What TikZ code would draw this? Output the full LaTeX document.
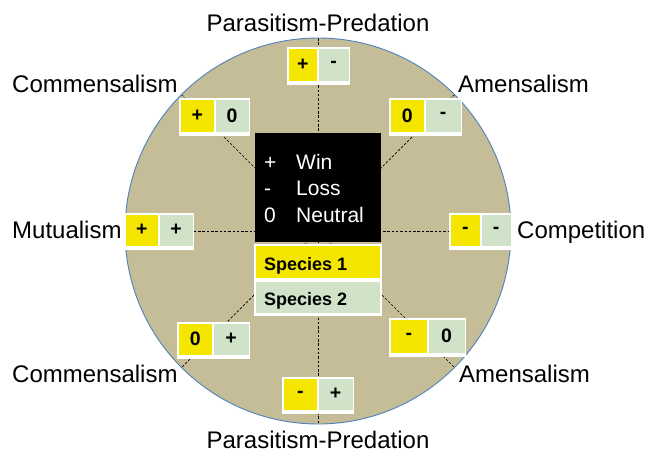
\documentclass[tikz,border=0pt]{standalone}
\usepackage{fontspec}
\setmainfont{Liberation Sans}
\definecolor{tan}{HTML}{C4BD97}
\definecolor{rim}{HTML}{4F81BD}
\definecolor{yel}{RGB}{245,230,0}
\definecolor{grn}{RGB}{208,227,200}
\tikzset{
  lbl/.style={font=\fontsize{24}{24}\selectfont, inner sep=0pt, anchor=base west},
  cell/.style={inner sep=0pt, outer sep=0pt, font=\bfseries\fontsize{19.5}{19.5}\selectfont, text=black},
  legtext/.style={font=\fontsize{21}{21}\selectfont, text=white, inner sep=0pt, anchor=base west},
  sptext/.style={font=\bfseries\fontsize{18}{18}\selectfont, text=black, inner sep=0pt, anchor=base west},
  spoke/.style={black, line width=0.7pt, dash pattern=on 2.5pt off 1.8pt},
}
\newcommand\pairbox[8]{%
  \fill[white] (#2,#3) rectangle (#4,#5);
  \node[cell,fill=yel,anchor=north west,minimum width={(#6-#2-2.2)*1pt},minimum height={(#5-#3-5.5)*1pt}] (#1a) at (#2+1.5,#3+1.5) {#7};
  \node[cell,fill=grn,anchor=north west,minimum width={(#4-#6-2.2)*1pt},minimum height={(#5-#3-5.5)*1pt}] (#1b) at (#6+0.7,#3+1.5) {#8};
}
\begin{document}
\begin{tikzpicture}[x=1pt,y=-1pt]
\useasboundingbox (0,0) rectangle (656,453);
\coordinate (c) at (318,231);
\fill[tan] (c) circle[radius=193];
\begin{scope}
\clip (c) circle[radius=193];
\coordinate (n) at (318,38);  \coordinate (s) at (318,424);
\coordinate (w) at (125,231); \coordinate (e) at (511,231);
\coordinate (nw) at (181.5,94.5); \coordinate (se) at (454.5,367.5);
\coordinate (ne) at (454.5,94.5); \coordinate (sw) at (181.5,367.5);
\draw[spoke] (n) -- (s);
\draw[spoke] (w) -- (e);
\draw[spoke] (nw) -- (se);
\draw[spoke] (ne) -- (sw);
\end{scope}
\draw[rim, line width=0.9pt] (c) circle[radius=193];

% legend
\fill[black] (255,133) rectangle (381,242);
\node[legtext] (l1) at (264,169) {+};
\node[legtext] (l2) at (264,195) {-};
\node[legtext] (l3) at (264,222) {0};
\node[legtext] (w1) at (296,169) {Win};
\node[legtext] (w2) at (296,195) {Loss};
\node[legtext] (w3) at (296,222) {Neutral};

% species
\fill[white] (254,244) rectangle (382,316);
\fill[yel] (256,246) rectangle (380,278);
\fill[grn] (256,282) rectangle (380,313);
\node[sptext] (sp1) at (264,270) {Species 1};
\node[sptext] (sp2) at (264,305) {Species 2};

% pairs
\pairbox{pt}{287}{47}{350}{85}{318}{+}{-}
\pairbox{ctl}{179}{98}{250}{136}{215}{+}{0}
\pairbox{atr}{389}{98}{462}{136}{425}{0}{-}
\pairbox{mu}{124}{213}{194}{250}{159}{+}{+}
\pairbox{co}{449}{213}{512}{250}{481}{-}{-}
\pairbox{cbl}{177}{322}{250}{359}{213}{0}{+}
\pairbox{abr}{389}{318}{466}{357}{428}{-}{0}
\pairbox{pb}{282}{377}{354}{414}{318}{-}{+}

% labels
\node[lbl, anchor=base] (tpp) at (318,31) {Parasitism-Predation};
\node[lbl] (tcom) at (12,92) {Commensalism};
\node[lbl] (tame) at (458,92) {Amensalism};
\node[lbl] (tmu) at (12,238) {Mutualism};
\node[lbl] (tco) at (517,238) {Competition};
\node[lbl] (bcom) at (12,382) {Commensalism};
\node[lbl] (bame) at (459,382) {Amensalism};
\node[lbl, anchor=base] (bpp) at (318,448) {Parasitism-Predation};
\end{tikzpicture}
\end{document}
